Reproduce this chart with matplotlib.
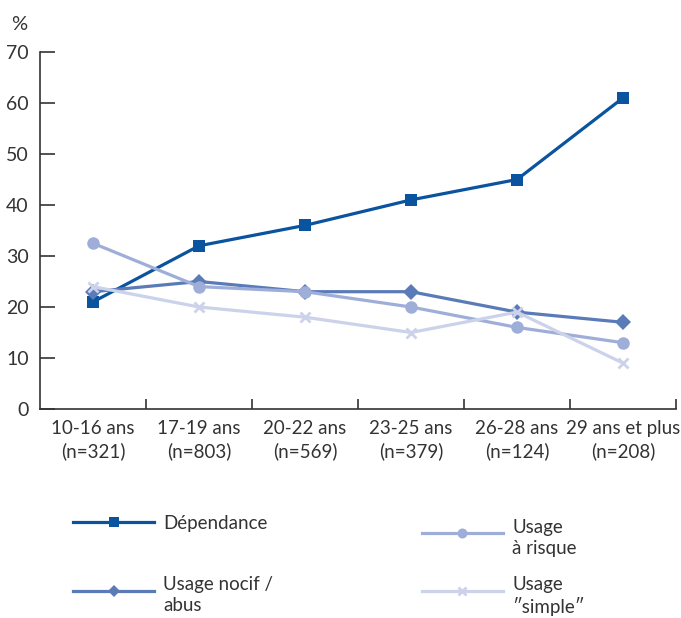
import matplotlib
matplotlib.use("Agg")
import matplotlib.pyplot as plt
from matplotlib.lines import Line2D

categories = ["10-16 ans\n(n=321)", "17-19 ans\n(n=803)", "20-22 ans\n(n=569)",
              "23-25 ans\n(n=379)", "26-28 ans\n(n=124)", "29 ans et plus\n(n=208)"]
dependance = [21, 32, 36, 41, 45, 61]
usage_nocif = [23, 25, 23, 23, 19, 17]
usage_risque = [32.5, 24, 23, 20, 16, 13]
usage_simple = [24, 20, 18, 15, 19, 9]
y_ticks = [0, 10, 20, 30, 40, 50, 60, 70]

plt.rcParams['font.family'] = ['Lato', 'DejaVu Sans']
text_color = '#333333'

fig = plt.figure(figsize=(6.81, 6.18), dpi=100)
ax = fig.add_axes([40/681, 1-409/618, 636/681, 357/618])

x = list(range(len(categories)))
series = [
    (dependance, '#0a539e', 's', 8.5, 'Dépendance'),
    (usage_nocif, '#5a7bb8', 'D', 8, 'Usage nocif /\nabus'),
    (usage_risque, '#9eaed8', 'o', 9, 'Usage\nà risque'),
    (usage_simple, '#cbd2ea', 'x', 7.5, 'Usage\n\u2033simple\u2033'),
]
for vals, col, mk, ms, lab in series:
    ax.plot(x, vals, color=col, marker=mk, markersize=ms, linewidth=2.3,
            markeredgewidth=2 if mk == 'x' else 0, markeredgecolor=col,
            clip_on=False)

ax.set_xlim(-0.5, 5.5)
ax.set_ylim(0, 70)
ax.set_yticks(y_ticks)
ax.set_xticks(x)
ax.set_xticklabels(categories, fontsize=13.5, color=text_color, linespacing=1.35)
ax.set_xticks([i + 0.5 for i in x], minor=True)
ax.tick_params(axis='x', which='major', length=0, pad=8)
ax.tick_params(axis='x', which='minor', direction='in', length=7, width=1.2, color=text_color)
ax.tick_params(axis='y', direction='in', length=11, width=1.2, color=text_color,
               labelsize=14, labelcolor=text_color, pad=8)
for s in ['top', 'right']:
    ax.spines[s].set_visible(False)
for s in ['left', 'bottom']:
    ax.spines[s].set_color(text_color)
    ax.spines[s].set_linewidth(1.2)

fig.text(11/681, 1-25/618, '%', fontsize=14.5, color=text_color, va='center', ha='left')

# Legend (manual layout)
leg_pos = [
    (73, 154, 522, 163, 524),   # Dépendance
    (73, 154, 591, 163, 595),   # nocif
    (422, 503, 533, 512, 538),  # risque
    (422, 503, 591, 512, 596),  # simple
]
for (vals, col, mk, ms, lab), (x0, x1, yl, xt, yt) in zip(series, leg_pos):
    fy = 1 - yl/618
    fig.add_artist(Line2D([x0/681, x1/681], [fy, fy], color=col, linewidth=2.3,
                          transform=fig.transFigure))
    fig.add_artist(Line2D([(x0+x1)/2/681], [fy], color=col, marker=mk,
                          markersize=ms*0.8, markeredgewidth=2 if mk == 'x' else 0,
                          markeredgecolor=col, linestyle='none', transform=fig.transFigure))
    fig.text(xt/681, 1-yt/618, lab, fontsize=13.5, color=text_color, va='center',
             ha='left', linespacing=1.3)

fig.savefig('out.png', dpi=100)
